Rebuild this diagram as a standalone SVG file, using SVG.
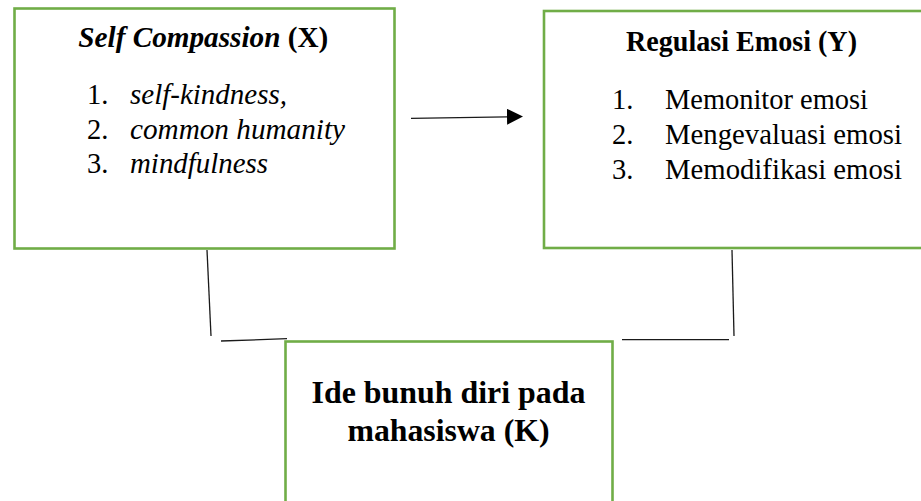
<svg xmlns="http://www.w3.org/2000/svg" width="921" height="501" viewBox="0 0 921 501">
  <style>
    .box { fill: #ffffff; stroke: #70AD47; stroke-width: 2.6; }
    .conn { stroke: #1a1a1a; stroke-width: 1.3; fill: none; }
    .title { font-size: 28.5px; font-weight: bold; }
    .item { font-size: 28.5px; }
    .it { font-style: italic; }
    .big { font-size: 32px; font-weight: bold; text-anchor: middle; }
  </style>
  <defs>
    <marker id="arrow" markerUnits="userSpaceOnUse" markerWidth="16" markerHeight="16" viewBox="0 0 16 16" refX="0" refY="8" orient="auto">
      <path d="M0,0 L16,8 L0,16 z" fill="#000000"/>
    </marker>
  </defs>
  <rect width="921" height="501" fill="#ffffff"/>

  <g id="node-x" font-family="Liberation Serif, Times New Roman, serif" fill="#000000">
    <rect class="box" x="14.5" y="8.5" width="380" height="240"/>
    <text class="title" x="78.3" y="47" textLength="250" lengthAdjust="spacingAndGlyphs"><tspan font-style="italic">Self Compassion</tspan> (X)</text>
    <text class="item" x="87" y="104">1.</text>
    <text class="item it" x="130" y="104" textLength="157" lengthAdjust="spacingAndGlyphs">self-kindness,</text>
    <text class="item" x="87" y="138.5">2.</text>
    <text class="item it" x="130" y="138.5" textLength="215" lengthAdjust="spacingAndGlyphs">common humanity</text>
    <text class="item" x="87" y="173">3.</text>
    <text class="item it" x="130" y="173" textLength="138" lengthAdjust="spacingAndGlyphs">mindfulness</text>
  </g>

  <g id="node-y" font-family="Liberation Serif, Times New Roman, serif" fill="#000000">
    <rect class="box" x="544" y="11" width="400" height="237"/>
    <text class="title" x="626" y="51" textLength="231" lengthAdjust="spacingAndGlyphs">Regulasi Emosi (Y)</text>
    <text class="item" x="612" y="108.5">1.</text>
    <text class="item" x="665" y="108.5" textLength="203" lengthAdjust="spacingAndGlyphs">Memonitor emosi</text>
    <text class="item" x="612" y="143.5">2.</text>
    <text class="item" x="665" y="143.5" textLength="237" lengthAdjust="spacingAndGlyphs">Mengevaluasi emosi</text>
    <text class="item" x="612" y="178.5">3.</text>
    <text class="item" x="665" y="178.5" textLength="237" lengthAdjust="spacingAndGlyphs">Memodifikasi emosi</text>
  </g>

  <g id="node-k" font-family="Liberation Serif, Times New Roman, serif" fill="#000000">
    <rect class="box" x="285.5" y="341.5" width="327" height="200"/>
    <text class="big" x="448.5" y="403" textLength="274" lengthAdjust="spacingAndGlyphs">Ide bunuh diri pada</text>
    <text class="big" x="448.5" y="441" textLength="202" lengthAdjust="spacingAndGlyphs">mahasiswa (K)</text>
  </g>

  <g id="connectors">
    <path class="conn" d="M411 118.3 L507 116.8" marker-end="url(#arrow)"/>
    <path class="conn" d="M207 250 L211 336"/>
    <path class="conn" d="M221 341 L287 338.7"/>
    <path class="conn" d="M732 250 L734 336"/>
    <path class="conn" d="M622 339.7 L729 339.7"/>
  </g>
</svg>
